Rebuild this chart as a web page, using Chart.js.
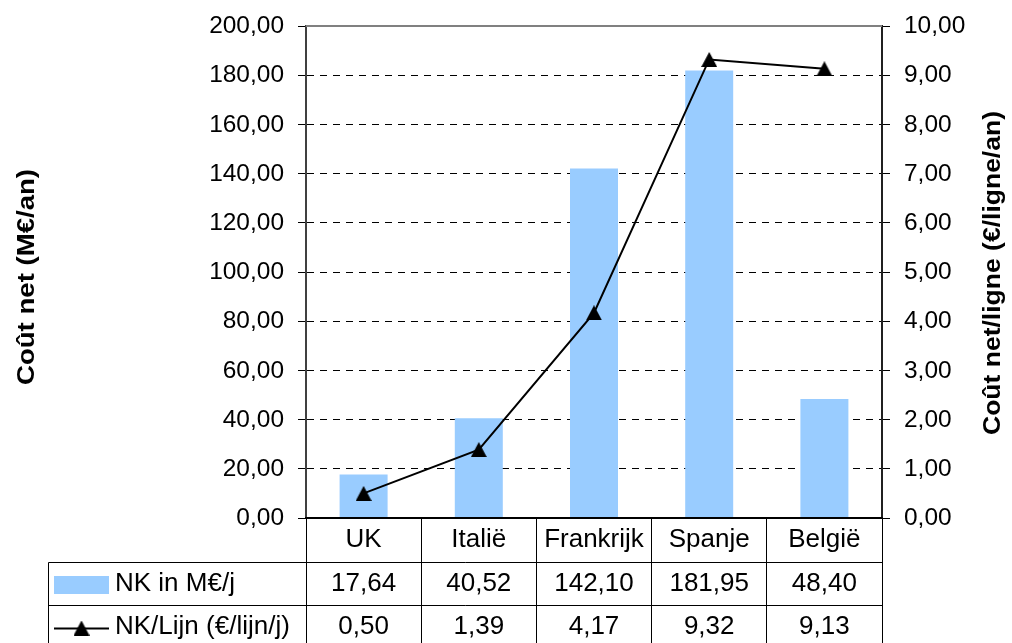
<!DOCTYPE html>
<html>
<head>
<meta charset="utf-8">
<script src="https://cdn.jsdelivr.net/npm/chart.js@4.4.1/dist/chart.umd.min.js"></script>
<style>
  html, body { margin: 0; padding: 0; background: #ffffff; }
  #wrap { width: 1012px; height: 643px; position: relative; }
</style>
</head>
<body>
<div id="wrap"><canvas id="chart"></canvas></div>
<script>
// Categories and series
const categories = ['UK', 'Italië', 'Frankrijk', 'Spanje', 'België'];
const netCostMillions = [17.64, 40.52, 142.10, 181.95, 48.40];
const netCostPerLine = [0.50, 1.39, 4.17, 9.32, 9.13];
const seriesNames = ['NK in M€/j', 'NK/Lijn (€/lijn/j)'];

// Axis ranges and tick steps
const leftAxisRange = [0, 200];
const leftAxisStep = 20;
const rightAxisRange = [0, 10];
const rightAxisStep = 1;

const axisTitles = ['Coût net (M€/an)', 'Coût net/ligne (€/ligne/an)'];

const FONT = '"Liberation Sans", Arial, sans-serif';
const BAR_COLOR = '#99CCFF';

// decimal comma, two decimals
const fmt = v => v.toFixed(2).replace('.', ',');

// triangle marker used for the line series and its key in the table
const tri = document.createElement('canvas');
tri.width = 16; tri.height = 15;
(function () {
  const t = tri.getContext('2d');
  t.beginPath();
  t.moveTo(8, 0);
  t.lineTo(16, 15);
  t.lineTo(0, 15);
  t.closePath();
  t.fillStyle = '#000';
  t.fill();
})();

function drawText(ctx, text, x, y, o) {
  ctx.save();
  ctx.font = `${o.bold ? 'bold ' : ''}${o.size}px ${FONT}`;
  ctx.fillStyle = o.color || '#000';
  ctx.textBaseline = 'middle';
  ctx.textAlign = o.align || 'center';
  ctx.translate(x, y);
  if (o.rotate) ctx.rotate(o.rotate);
  let sx = o.sx || 1;
  if (o.fitWidth) sx = o.fitWidth / ctx.measureText(text).width;
  ctx.scale(sx, 1);
  ctx.fillText(text, 0, 0);
  ctx.restore();
}

function hLine(ctx, x1, x2, y, color, w) {
  ctx.save();
  ctx.strokeStyle = color; ctx.lineWidth = w;
  ctx.beginPath(); ctx.moveTo(x1, y); ctx.lineTo(x2, y); ctx.stroke();
  ctx.restore();
}
function vLine(ctx, x, y1, y2, color, w) {
  ctx.save();
  ctx.strokeStyle = color; ctx.lineWidth = w;
  ctx.beginPath(); ctx.moveTo(x, y1); ctx.lineTo(x, y2); ctx.stroke();
  ctx.restore();
}

// tick labels, axis titles, plot frame and the data table below the plot
const tablePlugin = {
  id: 'dataTable',
  afterDraw(chart) {
    const { ctx, chartArea: ca, scales } = chart;
    const xs = scales.x, yl = scales.y, yr = scales.y1;

    // top edge of the plot area
    hLine(ctx, ca.left, ca.right, ca.top, '#808080', 2);

    // value axis labels
    yl.ticks.forEach(t => drawText(ctx, fmt(t.value), ca.left - 22, yl.getPixelForValue(t.value) + 0.5,
      { size: 24, sx: 1.02, align: 'right' }));
    yr.ticks.forEach(t => drawText(ctx, fmt(t.value), ca.right + 22, yr.getPixelForValue(t.value) + 0.5,
      { size: 24, sx: 1.02, align: 'left' }));

    // axis titles
    drawText(ctx, axisTitles[0], 28, 277, { size: 23, bold: true, rotate: -Math.PI / 2, fitWidth: 216 });
    drawText(ctx, axisTitles[1], 994, 273, { size: 23, bold: true, rotate: -Math.PI / 2, fitWidth: 324 });

    // table geometry
    const tableLeft = 48.5;
    const headerBottom = ca.bottom + 44;
    const row1Bottom = headerBottom + 43;
    const H = chart.height;

    hLine(ctx, tableLeft, ca.right, Math.round(headerBottom) + 0.5, '#000', 1);
    hLine(ctx, tableLeft, ca.right, Math.round(row1Bottom) + 0.5, '#000', 1);
    vLine(ctx, tableLeft, Math.round(headerBottom) + 0.5, H, '#000', 1);

    const headerY = ca.bottom + 22;
    const row1Y = headerBottom + 22;
    const row2Y = row1Bottom + 22;

    categories.forEach((c, i) => {
      const cx = xs.getPixelForValue(i);
      drawText(ctx, c, cx, headerY, { size: 26 });
      drawText(ctx, fmt(netCostMillions[i]), cx, row1Y, { size: 26 });
      drawText(ctx, fmt(netCostPerLine[i]), cx, row2Y, { size: 26 });
    });

    // legend keys
    ctx.save();
    ctx.fillStyle = BAR_COLOR;
    ctx.fillRect(54, row1Y - 8, 55, 18);
    ctx.restore();
    hLine(ctx, 54, 109, row2Y + 1.5, '#000', 2);
    ctx.drawImage(tri, 81.5 - tri.width / 2, row2Y + 1 - tri.height / 2);

    drawText(ctx, seriesNames[0], 115, row1Y, { size: 26, align: 'left' });
    drawText(ctx, seriesNames[1], 115, row2Y, { size: 26, align: 'left' });
  }
};

new Chart(document.getElementById('chart'), {
  data: {
    labels: categories,
    datasets: [
      {
        type: 'line',
        label: seriesNames[1],
        data: netCostPerLine,
        yAxisID: 'y1',
        borderColor: '#000',
        borderWidth: 2,
        pointStyle: tri,
        pointRadius: 8,
        pointBackgroundColor: '#000',
        fill: false,
        tension: 0,
        order: 0
      },
      {
        type: 'bar',
        label: seriesNames[0],
        data: netCostMillions,
        yAxisID: 'y',
        backgroundColor: BAR_COLOR,
        barPercentage: 0.4167,
        categoryPercentage: 1,
        order: 1
      }
    ]
  },
  options: {
    responsive: true,
    maintainAspectRatio: false,
    animation: false,
    events: [],
    layout: { padding: { top: 26, left: 0, right: 0, bottom: 0 } },
    plugins: { legend: { display: false }, tooltip: { enabled: false }, title: { display: false } },
    scales: {
      x: {
        type: 'category',
        offset: true,
        ticks: { display: false },
        grid: {
          offset: true,
          drawOnChartArea: false,
          drawTicks: true,
          tickLength: 125,
          tickColor: '#000',
          tickWidth: 1
        },
        border: { display: true, color: '#000', width: 2, z: 1 },
        afterFit(scale) { scale.height = 125; }
      },
      y: {
        position: 'left',
        min: leftAxisRange[0],
        max: leftAxisRange[1],
        ticks: { display: false, stepSize: leftAxisStep },
        grid: {
          drawOnChartArea: true,
          drawTicks: true,
          tickLength: 8,
          tickColor: '#000',
          tickWidth: 1,
          lineWidth: 1,
          color: ctx => (ctx.tick && (ctx.tick.value === leftAxisRange[0] || ctx.tick.value === leftAxisRange[1])) ? 'rgba(0,0,0,0)' : '#000'
        },
        border: { display: true, color: '#404040', width: 2, dash: [7, 6] },
        afterFit(scale) { scale.width = 306; }
      },
      y1: {
        position: 'right',
        min: rightAxisRange[0],
        max: rightAxisRange[1],
        ticks: { display: false, stepSize: rightAxisStep },
        grid: {
          drawOnChartArea: false,
          drawTicks: true,
          tickLength: 8,
          tickColor: '#000',
          tickWidth: 1
        },
        border: { display: true, color: '#202020', width: 2 },
        afterFit(scale) { scale.width = 130; }
      }
    }
  },
  plugins: [tablePlugin]
});
</script>
</body>
</html>
